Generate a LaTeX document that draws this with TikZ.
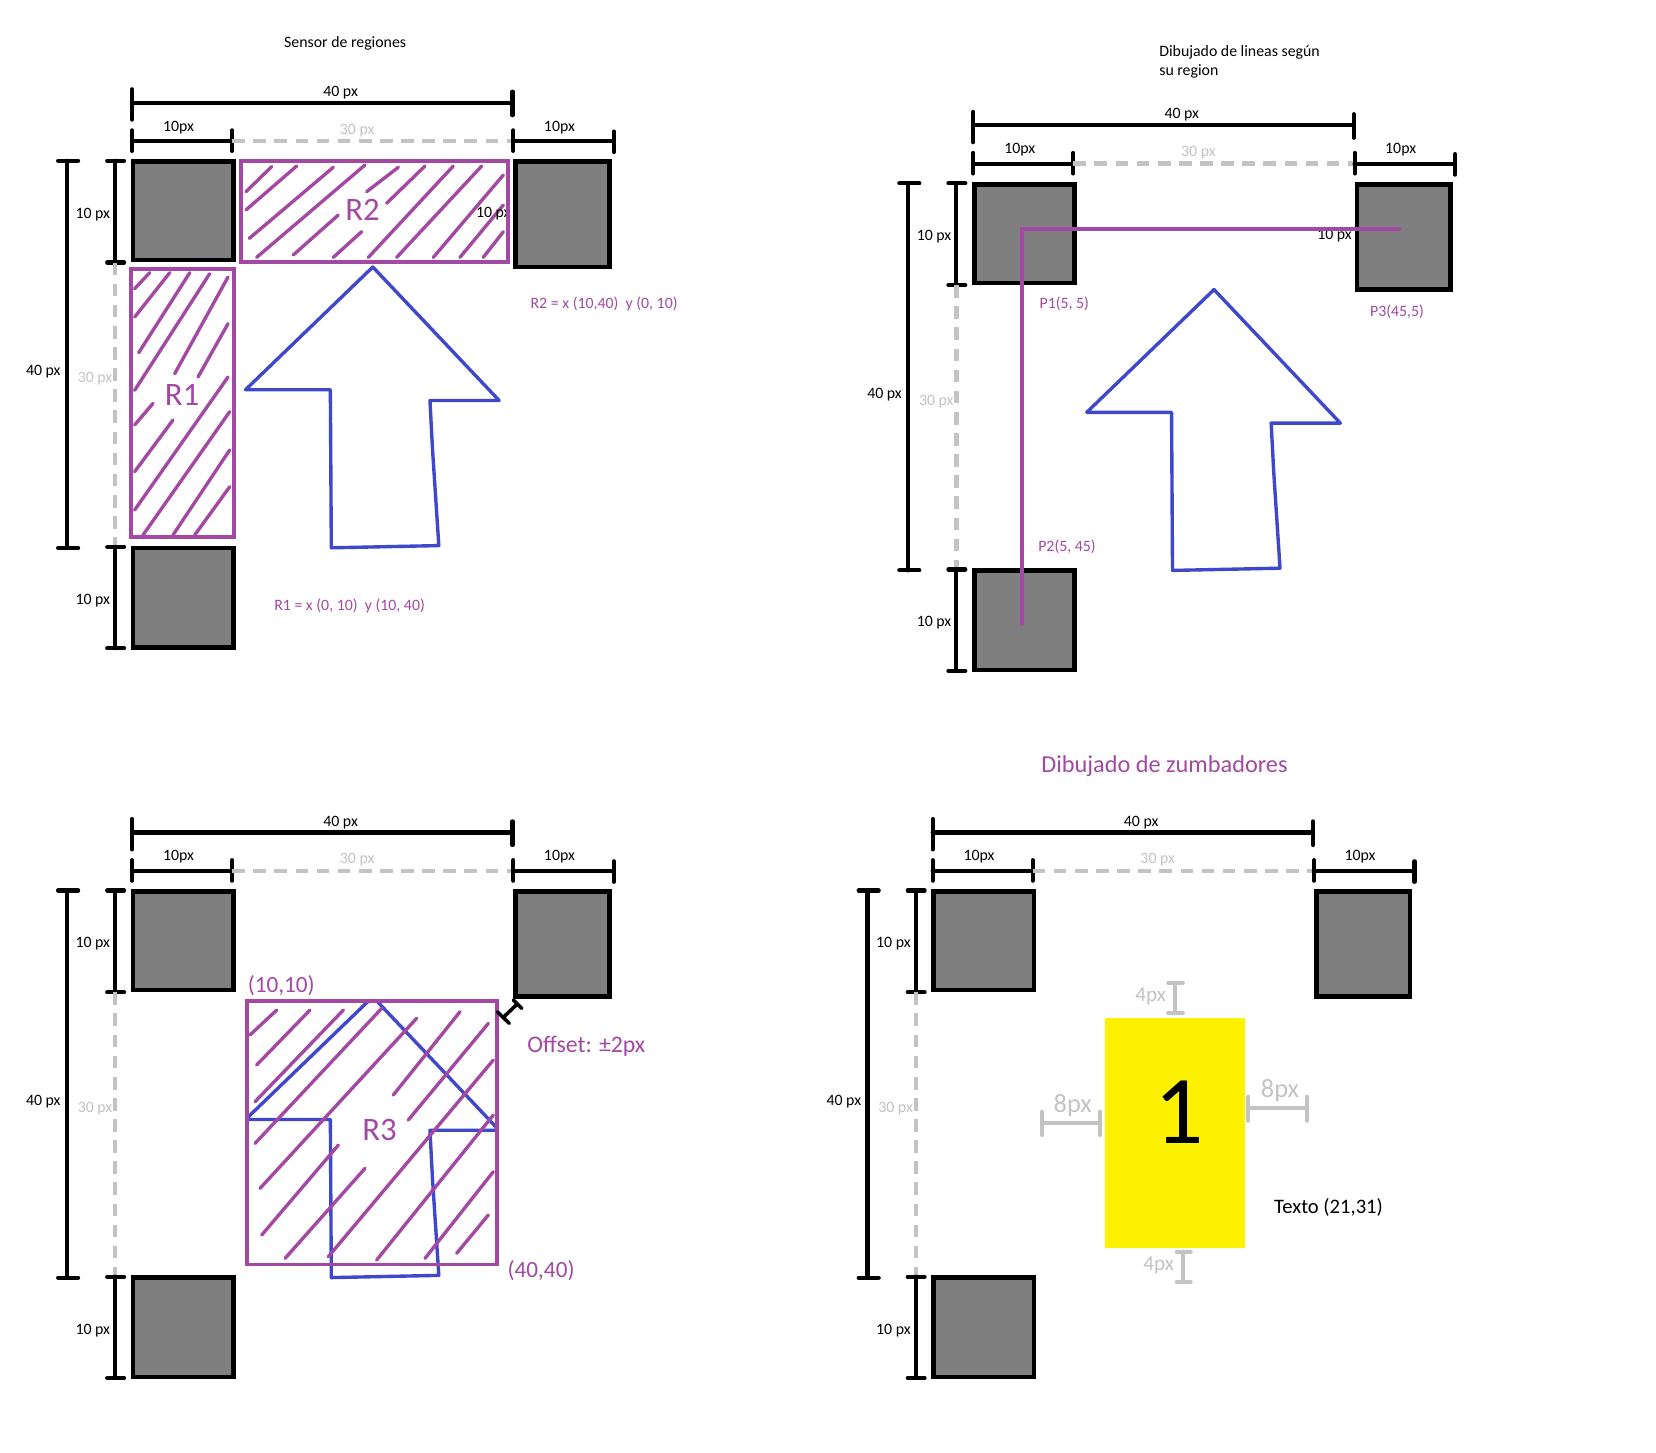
\documentclass[tikz,border=0pt]{standalone}
\usepackage{fontspec}
\setmainfont{Carlito}
\usepackage{tikz}
\definecolor{regionpurple}{HTML}{A349A4}
\definecolor{arrowblue}{HTML}{3F48CC}
\definecolor{sensorgray}{HTML}{7F7F7F}
\definecolor{gapgray}{HTML}{C3C3C3}
\definecolor{buzzeryellow}{HTML}{FFF200}
\tikzset{
  dimbar/.style={draw=black, line width=3.9pt, line cap=round},
  gapline/.style={draw=gapgray, line width=4.2pt, dash pattern=on 12pt off 8pt},
  sensorbox/.style={draw=black, line width=4.3pt, fill=sensorgray},
  regionbox/.style={draw=regionpurple, line width=3.6pt},
  hatchline/.style={draw=regionpurple, line width=3.2pt, line cap=round},
  arrowline/.style={draw=arrowblue, line width=3.2pt, line join=round, line cap=round},
  pathline/.style={draw=regionpurple, line width=3.6pt, line cap=round},
  marginbar/.style={draw=gapgray, line width=3.8pt, line cap=round},
  smalltext/.style={font=\fontsize{15}{18}\selectfont, inner sep=0pt},
  gaptext/.style={smalltext, text=gapgray},
  coordtext/.style={smalltext, text=regionpurple},
  regiontext/.style={font=\fontsize{31}{36}\selectfont, text=regionpurple, inner sep=0pt},
  bigcoord/.style={font=\fontsize{22}{26}\selectfont, text=regionpurple, inner sep=0pt},
  margintext/.style={text=gapgray, inner sep=0pt}
}
% dimension lines and the three sensors of one panel
\newcommand{\sensorframe}[1]{%
  \draw[dimbar] (125.1,84.5) -- (125.1,113.3) (125.1,97.2) -- (485.3,97.2) (485.3,86.7) -- (485.3,109.1);
  \draw[dimbar] (125.1,123.4) -- (125.1,142.9) (125.1,133.6) -- (219.8,133.6) (219.8,123.4) -- (219.8,142.9);
  \draw[gapline] (219.8,133.6) -- (486.1,133.6);
  \draw[dimbar] (486.1,123.4) -- (486.1,142.9) (486.1,133.6) -- (581.3,133.6) (581.3,124.5) -- (581.3,144);
  \draw[dimbar] (55,152.2) -- (74,152.2) (63.4,152.2) -- (63.4,518.7) (55,518.7) -- (74,518.7);
  \draw[dimbar] (101.5,152.2) -- (117.5,152.2) (109.1,152.2) -- (109.1,248.6) (101.5,248.6) -- (117.5,248.6);
  \draw[gapline] (109.1,248.6) -- (109.1,517.8);
  \draw[dimbar] (101.5,517.8) -- (117.5,517.8) (109.1,517.8) -- (109.1,613.8) (101.5,613.8) -- (117.5,613.8);
  \node[smalltext] (#1-w40) at (322.5,87.5) {40 px};
  \node[smalltext] (#1-w10a) at (169.1,120.5) {10px};
  \node[gaptext] (#1-w30) at (338.2,123.4) {30 px};
  \node[smalltext] (#1-w10b) at (529.7,120.5) {10px};
  \node[smalltext] (#1-h10a) at (87.9,202.9) {10 px};
  \node[smalltext] (#1-h40) at (41,352.1) {40 px};
  \node[gaptext] (#1-h30) at (90,358.9) {30 px};
  \node[smalltext] (#1-h10b) at (87.9,568.6) {10 px};
  \draw[sensorbox] (126.1,153.1) rectangle (221,246.4);
  \draw[sensorbox] (488.3,153.1) rectangle (576.9,252.7);
  \draw[sensorbox] (126.1,518.8) rectangle (221,613);
}
\newcommand{\arrowoutline}{%
  \draw[arrowline] (232.5,369) -- (353,252.8) -- (472.6,379.2) -- (407.1,379.2)
    -- (409.5,425) -- (415.5,516.6) -- (313.7,518.7) -- (312.8,369) -- cycle;
}

\begin{document}
\begin{tikzpicture}[x=1pt,y=-1pt]
\useasboundingbox (0,0) rectangle (1568,1375);
\fill[white] (0,0) rectangle (1568,1375);

% panel 1: region sensor
\node[smalltext] (title-regions) at (326.8,41.4) {Sensor de regiones};
\foreach \a/\b/\c/\d in {127.5/273.4/141.7/258.2, 127.5/300.2/160.7/258.2, 131.3/334.0/179.7/258.2,
    127.5/369.6/198.5/259.2, 165.4/353.9/215.9/262.3, 187.5/357.0/215.9/306.5,
    127.5/402.4/144.9/381.9, 127.5/446.6/163.8/397.7, 127.5/482.9/215.9/357.0,
    135.4/506.6/217.5/389.8, 163.8/506.6/217.5/426.1, 184.4/506.6/217.5/460.9}
  \draw[hatchline] (\a,\b) -- (\c,\d);
\foreach \a/\b/\c/\d in {232.9/181.5/257.2/157.8, 232.9/198.8/280.9/157.2, 236.1/225.7/315.6/158.4,
    243.0/243.7/345.6/156.2, 277.7/241.4/320.3/203.6, 315.6/243.7/342.4/219.4,
    347.2/181.5/377.2/158.4, 366.1/192.5/402.4/157.2, 348.8/243.7/429.2/157.2,
    375.6/243.7/456.1/157.2, 410.3/243.7/476.6/165.7, 435.5/243.7/476.6/194.1,
    457.6/243.7/476.6/219.4}
  \draw[hatchline] (\a,\b) -- (\c,\d);
\node[smalltext] (hidden-a) at (467.1,202.1) {10 px};
\draw[regionbox] (124.3,254.5) rectangle (221.5,508.5);
\draw[regionbox] (227.9,152.6) rectangle (481.1,247.7);
\node[regiontext] (r1) at (172.5,374.1) {R1};
\node[regiontext] (r2) at (343.3,198.7) {R2};
\sensorframe{a}
\arrowoutline
\node[coordtext] (r2-range) at (572,288.3) {R2 = x (10,40)\ \ y (0, 10)};
\node[coordtext] (r1-range) at (331,574.1) {R1 = x (0, 10)\ \ y (10, 40)};

% panel 2: lines by region
\node[smalltext, anchor=west, align=left] (title-lines) at (1097.5,58.5)
  {Dibujado de lineas según\\su region};
\begin{scope}[shift={(796.5,21.4)}]
  \node[smalltext] (hidden-b) at (467.1,202.1) {10 px};
  \sensorframe{b}
  \arrowoutline
\end{scope}
\coordinate (p2) at (967.3,590.5);
\coordinate (p1) at (967.3,216.8);
\coordinate (p3) at (1324.7,216.8);
\draw[pathline] (p2) -- (p1) -- (p3);
\node[coordtext] (p1-label) at (1007.7,287.5) {P1(5, 5)};
\node[coordtext] (p2-label) at (1010.3,517.8) {P2(5, 45)};
\node[coordtext] (p3-label) at (1322.8,295) {P3(45,5)};

% panel 3: turn region with offset
\begin{scope}[shift={(0,691)}]
  \sensorframe{c}
\end{scope}
\begin{scope}
  \clip (233.9,947.5) rectangle (470.9,1300);
  \begin{scope}[shift={(0,691)}]
    \arrowoutline
  \end{scope}
\end{scope}
\foreach \a/\b/\c/\d in {236.7/980.0/262.0/956.4, 243.0/1008.4/293.5/956.4, 241.5/1043.1/325.1/956.4,
    241.5/1082.6/361.4/954.8, 246.2/1125.2/394.5/964.2, 247.8/1169.4/320.4/1084.2,
    269.9/1191.5/345.6/1106.3, 372.4/1036.8/435.6/957.9, 386.6/1060.5/462.4/969.0,
    310.9/1189.9/467.1/1003.7, 356.6/1193.1/467.1/1055.8, 402.4/1191.5/467.1/1109.4,
    432.4/1186.7/462.4/1150.4}
  \draw[hatchline] (\a,\b) -- (\c,\d);
\draw[regionbox] (233.9,947.5) rectangle (470.9,1197.2);
\node[regiontext] (r3) at (359.3,1070.4) {R3};
\node[bigcoord] (r3-start) at (266.3,933.6) {(10,10)};
\node[bigcoord] (r3-end) at (512.3,1203) {(40,40)};
\draw[dimbar, line width=3.4pt] (486.1,946.9) -- (494.0,954.8) (489.8,950.7) -- (476.5,963.3)
  (470.9,958.0) -- (482.2,969.0);
\node[bigcoord, font=\fontsize{22.5}{26}\selectfont] (offset) at (555.1,991) {Offset: ±2px};

% panel 4: buzzers
\node[font=\fontsize{23}{27}\selectfont, text=regionpurple, inner sep=0pt] (title-buzzers)
  at (1102.6,725.3) {Dibujado de zumbadores};
\begin{scope}[shift={(758,691)}]
  \sensorframe{d}
\end{scope}
\fill[buzzeryellow] (1046.4,964.3) rectangle (1178.6,1181.9);
\node[font=\fontsize{92}{100}\selectfont, inner sep=0pt] (buzzer-num) at (1116.7,1053.2) {1};
\draw[marginbar] (1106,930.6) -- (1120,930.6) (1113,930.6) -- (1113,959.5) (1106,959.5) -- (1120,959.5);
\draw[marginbar] (1114.2,1185.2) -- (1127.4,1185.2) (1119.8,1185.2) -- (1119.8,1214) (1114.2,1214) -- (1127.4,1214);
\draw[marginbar] (986.3,1052.6) -- (986.3,1074.7) (986.3,1063) -- (1041.6,1063) (1041.6,1052.6) -- (1041.6,1074.7);
\draw[marginbar] (1182,1038.4) -- (1182,1061.2) (1182,1049.5) -- (1237.3,1049.5) (1237.3,1038.4) -- (1237.3,1061.2);
\node[margintext, font=\fontsize{20}{24}\selectfont] (top-gap) at (1089.5,943.8) {4px};
\node[margintext, font=\fontsize{20}{24}\selectfont] (bottom-gap) at (1097.1,1198.5) {4px};
\node[margintext, font=\fontsize{25}{30}\selectfont] (left-gap) at (1015.7,1047.3) {8px};
\node[margintext, font=\fontsize{25}{30}\selectfont] (right-gap) at (1212,1032.7) {8px};
\node[font=\fontsize{19.5}{23}\selectfont, inner sep=0pt] (text-pos) at (1257.9,1143.3) {Texto (21,31)};

\end{tikzpicture}
\end{document}
